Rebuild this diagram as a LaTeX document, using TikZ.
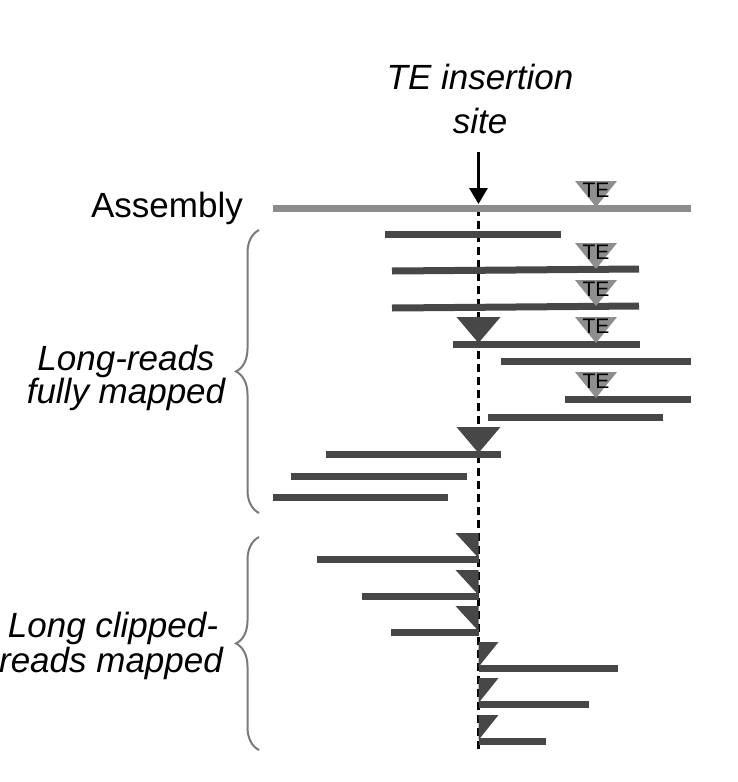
\documentclass[tikz,border=0pt]{standalone}
\usepackage{fontspec}
\setmainfont{Liberation Sans}
\usetikzlibrary{arrows.meta,decorations.pathreplacing}
\definecolor{readc}{HTML}{474747}
\definecolor{asmc}{HTML}{8C8C8C}
\definecolor{tec}{HTML}{8E8E8E}
\definecolor{bracec}{HTML}{7A7A7A}
\tikzset{
  readline/.style={draw=readc, line width=7pt},
  asmline/.style={draw=asmc, line width=7pt},
  bigtext/.style={font=\fontsize{35pt}{35pt}\selectfont, inner sep=0pt, anchor=base},
  bigital/.style={bigtext, font=\fontsize{35pt}{35pt}\selectfont\itshape},
  tetext/.style={font=\fontsize{21pt}{21pt}\selectfont, inner sep=0pt, anchor=base},
  bracepath/.style={draw=bracec, line width=2pt, decorate,
    decoration={brace, amplitude=23pt, aspect=0.5}},
  temark/.pic={
    \fill[tec] (-21,-27) -- (21,-27) -- (0,-1) -- cycle;
    \node[tetext] (-t) at (0,-11) {TE};
  },
  insfull/.pic={\fill[readc] (-22,-27) -- (22,-27) -- (0,-1) -- cycle;},
  insleft/.pic={\fill[readc] (-23,-26) -- (0,-26) -- (0,-1) -- cycle;},
  insright/.pic={\fill[readc] (0,-26) -- (20,-26) -- (0,-1) -- cycle;},
}
\begin{document}
\begin{tikzpicture}[x=1pt, y=-1pt]
\useasboundingbox (0,0) rectangle (738,782);
% title
\node[bigital] (t1) at (480,89) {TE insertion};
\node[bigital] (t2) at (480,133) {site};
% arrow
\coordinate (arrtop) at (478.5,152);
\coordinate (arrtip) at (478.5,204);
\draw[line width=3pt, -{Triangle[length=16pt,width=18pt]}] (arrtop) -- (arrtip);
% dashed site line
\coordinate (dtop) at (478.5,208);
\coordinate (dbot) at (478.5,752);
\draw[line width=2.5pt, dash pattern=on 8pt off 5pt] (dtop) -- (dbot);
% assembly
\node[bigtext, anchor=base east] (asm) at (243,217) {Assembly};
\draw[asmline] (273,208) -- (691,208);
\pic (tea) at (596,208) {temark};
% fully mapped reads
\draw[readline] (385,234) -- (561,234);
\draw[readline] (392,271) -- (639,269);
\pic (te2) at (596,270) {temark};
\draw[readline] (392,308) -- (639,306);
\pic (te3) at (596,307) {temark};
\pic (ins1) at (478.5,344) {insfull};
\draw[readline] (453,344) -- (640,344);
\pic (te4) at (596,344) {temark};
\draw[readline] (501,361) -- (691,361);
\draw[readline] (565,399) -- (691,399);
\pic (te6) at (596,399) {temark};
\draw[readline] (488,417) -- (663,417);
\pic (ins2) at (478.5,454) {insfull};
\draw[readline] (326,454) -- (501,454);
\draw[readline] (291,476) -- (467,476);
\draw[readline] (273,497) -- (448,497);
% clipped reads
\pic (c1) at (478.5,559) {insleft};
\draw[readline] (317,559) -- (478.5,559);
\pic (c2) at (478.5,596) {insleft};
\draw[readline] (362,596) -- (478.5,596);
\pic (c3) at (478.5,632) {insleft};
\draw[readline] (391,632) -- (478.5,632);
\pic (c4) at (478.5,668) {insright};
\draw[readline] (478.5,668) -- (618,668);
\pic (c5) at (478.5,704) {insright};
\draw[readline] (478.5,704) -- (589,704);
\pic (c6) at (478.5,741) {insright};
\draw[readline] (478.5,741) -- (546,741);
% braces
\coordinate (b1bot) at (259,513);
\coordinate (b1top) at (259,230);
\draw[bracepath] (b1bot) -- (b1top);
\coordinate (b2bot) at (259,750);
\coordinate (b2top) at (259,537);
\draw[bracepath] (b2bot) -- (b2top);
% labels
\node[bigital] (l1a) at (126,370) {Long-reads};
\node[bigital] (l1b) at (126,403) {fully mapped};
\node[bigital] (l2a) at (113,637) {Long clipped-};
\node[bigital] (l2b) at (111,672) {reads mapped};
\end{tikzpicture}
\end{document}
